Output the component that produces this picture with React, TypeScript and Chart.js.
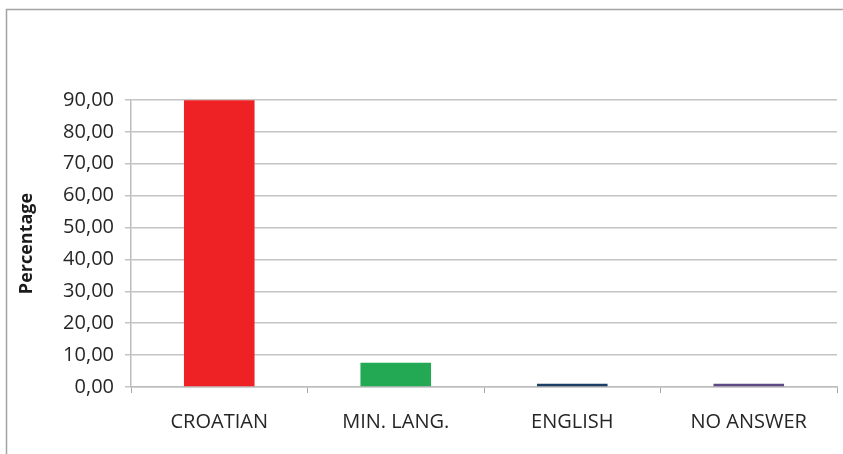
import React, { useEffect, useRef } from "react";
import { Chart, registerables } from "chart.js";

Chart.register(...registerables);

const categories = ["CROATIAN", "MIN. LANG.", "ENGLISH", "NO ANSWER"];
const percentages = [89.9, 7.6, 1.0, 1.0];
const barColors = ["#ee2224", "#23a854", "#1d3f66", "#5f4a85"];
const yTickValues = [0, 10, 20, 30, 40, 50, 60, 70, 80, 90];
const yAxisTitle = "Percentage";

const framePlugin = {
  id: "frame",
  beforeDraw(chart: any) {
    const ctx = chart.ctx;
    ctx.save();
    ctx.fillStyle = "#ffffff";
    ctx.fillRect(0, 0, chart.width, chart.height);
    ctx.strokeStyle = "#a3a3a3";
    ctx.lineWidth = 1.5;
    ctx.beginPath();
    ctx.moveTo(6.5, chart.height);
    ctx.lineTo(6.5, 9.5);
    ctx.lineTo(chart.width, 9.5);
    ctx.stroke();
    ctx.restore();
  },
};

export default function App() {
  const ref = useRef<HTMLCanvasElement | null>(null);

  useEffect(() => {
    if (!ref.current) return;
    const chart = new Chart(ref.current, {
      type: "bar",
      data: {
        labels: categories,
        datasets: [
          {
            data: percentages,
            backgroundColor: barColors,
            borderWidth: 0,
            barPercentage: 0.4,
            categoryPercentage: 1,
          },
        ],
      },
      options: {
        animation: false,
        responsive: false,
        maintainAspectRatio: false,
        layout: { padding: { top: 100, right: 6, bottom: 0, left: 0 } },
        plugins: {
          legend: { display: false },
          tooltip: { enabled: false },
        },
        scales: {
          x: {
            grid: {
              display: true,
              offset: true,
              drawOnChartArea: false,
              drawTicks: true,
              tickLength: 6,
              color: "#a8a8a8",
            },
            border: { display: true, color: "#bdbdbd", width: 1.5 },
            ticks: {
              color: "#262626",
              font: { family: "'Open Sans'", size: 20 },
              padding: 17,
              maxRotation: 0,
            },
            afterFit(scale: any) {
              scale.height = 67;
            },
          },
          y: {
            min: 0,
            max: 90,
            afterBuildTicks(scale: any) {
              scale.ticks = yTickValues.map((v) => ({ value: v }));
            },
            grid: {
              color: "#c4c4c4",
              lineWidth: 1.5,
              drawTicks: true,
              tickLength: 6,
            },
            border: { display: true, color: "#bdbdbd", width: 1.5 },
            ticks: {
              color: "#262626",
              font: { family: "'Open Sans'", size: 20 },
              padding: 11,
              callback: (v: any) => Number(v).toFixed(2).replace(".", ","),
            },
            title: {
              display: true,
              text: yAxisTitle,
              color: "#1a1a1a",
              font: { family: "'Open Sans'", size: 18, weight: "bold" },
              padding: { top: 16, bottom: 0 },
            },
            afterFit(scale: any) {
              scale.width = 131;
            },
          },
        },
      },
      plugins: [framePlugin],
    });
    return () => chart.destroy();
  }, []);

  return (
    <div style={{ position: "fixed", left: 0, top: 0, width: 843, height: 454 }}>
      <canvas ref={ref} width={843} height={454} style={{ display: "block" }} />
    </div>
  );
}
